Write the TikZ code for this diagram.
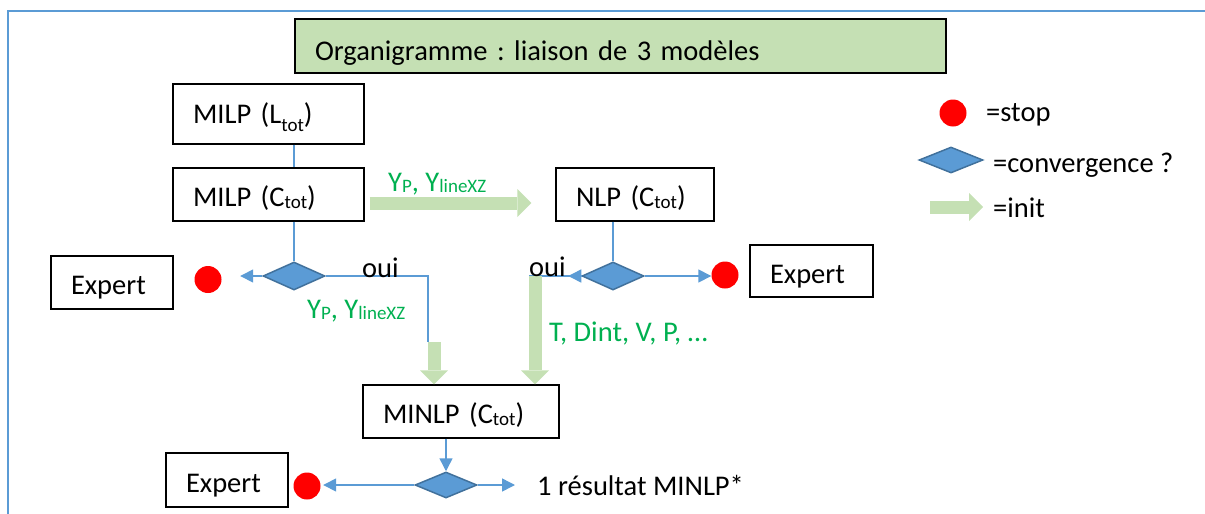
\documentclass[tikz,border=0pt]{standalone}
\usepackage{fontspec}
\setmainfont{Carlito}
\usetikzlibrary{arrows.meta,calc,positioning,shapes.geometric}
\definecolor{initgreen}{HTML}{C5E0B4}
\definecolor{txtgreen}{HTML}{00B050}
\definecolor{lnblue}{HTML}{5B9BD5}
\definecolor{dkblue}{HTML}{41719C}
\newcommand{\lowidx}[1]{\raisebox{-8pt}{\fontsize{19}{19}\selectfont #1}}
\newcommand{\tinyidx}[1]{\raisebox{-1.5pt}{\fontsize{19}{19}\selectfont #1}}
\frenchspacing
\tikzset{bx/.style={draw, line width=1.3pt, align=left, inner xsep=20pt, inner ysep=0pt, minimum height=53pt, text height=24pt, text depth=0pt},
  dia/.style={diamond, draw=dkblue, line width=1.5pt, fill=lnblue, minimum width=62pt, minimum height=28pt, inner sep=0pt},
  stopdot/.style={circle, fill=red, minimum size=27pt, inner sep=0pt},
  ln/.style={draw=lnblue, line width=1.5pt},
  flow/.style={ln, -{Triangle[length=13pt, width=13pt]}},
  init/.style={draw=initgreen, line width=13pt, -{Triangle[length=14pt, width=28pt, line width=0pt]}},
  lbl/.style={text=txtgreen, inner sep=0pt, anchor=base west},
  txt/.style={inner sep=0pt, anchor=base west}}

\begin{document}
\begin{tikzpicture}[x=1pt, y=-1pt, font=\fontsize{28.5}{34}\selectfont]
  \useasboundingbox (0,0) rectangle (1205,514);
  % frame
  \draw[lnblue, line width=2.5pt] (8,514) -- (8,11) -- (1205,11);
  \node[bx, fill=initgreen, text width=611pt, minimum height=54pt, text height=28pt] (title) at (620.5,46) {Organigramme : liaison de 3 modèles};
  % models
  \node[bx, text width=151pt, minimum height=60pt, text height=18.5pt] (milpL) at (268.5,114) {MILP (L\lowidx{tot})};
  \node[bx, text width=151pt] (milpC) at (268.5,194.5) {MILP (C\tinyidx{tot})};
  \node[bx, text width=118pt] (nlp) at (635,194.5) {NLP (C\tinyidx{tot})};
  \node[bx, text width=156pt] (minlp) at (461,411.5) {MINLP (C\tinyidx{tot})};
  \node[bx, text width=82pt] (expL) at (112,282.5) {Expert};
  \node[bx, text width=83pt, minimum height=52pt] (expR) at (811.5,271) {Expert};
  \node[bx, text width=82pt, minimum height=54pt] (expB) at (227,480) {Expert};
  % tests and stops
  \node[dia] (dMilp) at (294,276) {};
  \node[dia] (dNlp) at (613,276) {};
  \node[dia, minimum height=26pt] (dMinlp) at (446,485) {};
  \node[stopdot] (stopL) at (208,279.5) {};
  \node[stopdot] (stopR) at (725,275) {};
  \node[stopdot] (stopB) at (307,486) {};
  \node[txt] (res) at (537,495) {1 résultat MINLP*};
  % MILP chain
  \draw[ln] (milpL.south -| dMilp) -- (milpC.north -| dMilp);
  \draw[ln] (milpC.south -| dMilp) -- (dMilp.north);
  \draw[init, shorten <=5pt, shorten >=24pt] ([yshift=-8.5pt]milpC.east) -- ([yshift=-8.5pt]nlp.west);
  \node[lbl] (yTop) at (388,191) {Y\tinyidx{P}, Y\tinyidx{lineXZ}};
  \draw[flow, shorten >=18.5pt] (dMilp.west) -- (dMilp.west -| stopL.east);
  \coordinate (kMilp) at (428,342);
  \coordinate (gMilp) at (434,342);
  \draw[ln] (dMilp.east) -| (kMilp);
  \draw[init] (gMilp) -- (gMilp |- minlp.north);
  \node[txt] (ouiL) at (362,277) {oui};
  \node[lbl] (yLow) at (307,318) {Y\tinyidx{P}, Y\tinyidx{lineXZ}};
  % NLP chain
  \draw[ln] (nlp.south -| dNlp) -- (dNlp.north);
  \draw[flow] (dNlp.east) -- (dNlp.east -| stopR.west);
  \coordinate (kNlp) at (529,276);
  \coordinate (gNlp) at (535,276);
  \draw[ln] (dNlp.west) -- (kNlp);
  \draw[flow] (dNlp.west) -- ([xshift=-13pt]dNlp.west);
  \draw[init] (gNlp) -- (gNlp |- minlp.north);
  \node[txt] (ouiR) at (529,276) {oui};
  \node[lbl] (tVars) at (549,341) {T, Dint, V, P, …};
  % MINLP test
  \draw[flow] (minlp.south -| dMinlp) -- (dMinlp.north);
  \draw[flow, shorten >=2.5pt] (dMinlp.west) -- (dMinlp.west -| stopB.east);
  \draw[flow, shorten >=22pt] (dMinlp.east) -- (dMinlp.east -| res.west);
  % legend
  \node[stopdot] (kStop) at (953,113) {};
  \node[txt] (tStop) at (986,121) {=stop};
  \node[dia, minimum width=64pt, minimum height=26pt] (kConv) at (951,160) {};
  \node[txt] (tConv) at (993,172) {=convergence ?};
  \coordinate (kInit) at (930,207);
  \node[txt] (tInit) at (993,217) {=init};
  \draw[init, shorten >=10pt] (kInit) -- (kInit -| tInit.west);
\end{tikzpicture}
\end{document}
